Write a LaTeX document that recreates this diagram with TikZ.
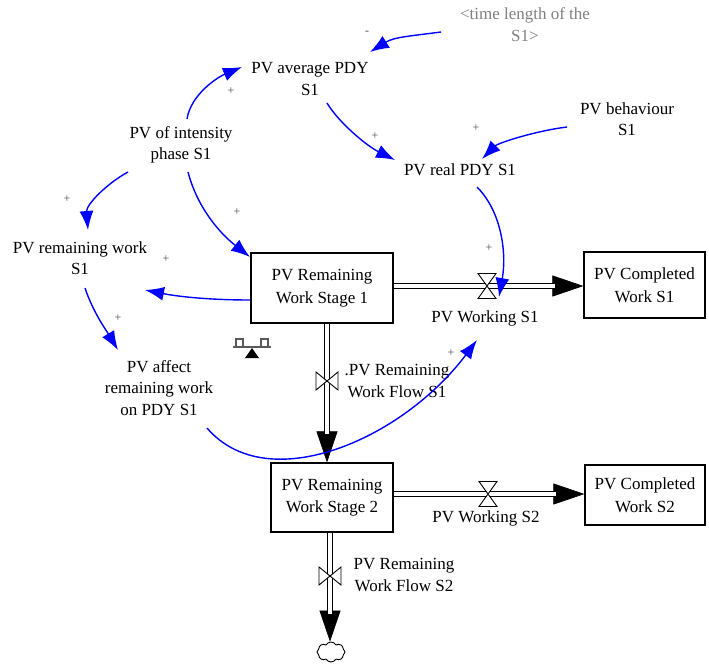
\documentclass[tikz,border=0pt]{standalone}
\usepackage{fontspec}
\setmainfont{Liberation Serif}
\usetikzlibrary{arrows.meta,calc,shapes.symbols}
\begin{document}
\begin{tikzpicture}[x=1pt,y=-1pt,
  lbl/.style={align=center,font=\fontsize{17}{21.5}\selectfont,inner sep=1pt},
  stock/.style={draw,line width=1.2pt,align=center,font=\fontsize{17}{22.5}\selectfont,inner sep=0pt},
  link/.style={draw=blue,line width=1.4pt,-{Latex[length=19pt,width=14pt]}},
  pol/.style={font=\fontsize{12}{12}\selectfont,text=black!70,inner sep=0pt},
  pipe/.style={draw=black,double=white,double distance=4pt,line width=1.3pt},
  pipehead/.style={draw=black,line width=0.6pt,-{Triangle[length=31pt,width=21pt]}},
  hvalve/.pic={\draw[fill=white,line width=0.9pt] (-9,-12.5)--(9,-12.5)--(-9,12.5)--(9,12.5)--cycle;},
  vvalve/.pic={\draw[fill=white,line width=0.9pt] (-11,-9)--(-11,9)--(11,-9)--(11,9)--cycle;}
]
\useasboundingbox (0,0) rectangle (709,667);

% auxiliary variables
\node[lbl,text=black!50] (tl) at (525,24.5) {<time length of the\\S1>};
\node[lbl] (avg)  at (310,79)  {PV average PDY\\S1};
\node[lbl] (beh)  at (627,119) {PV behaviour\\S1};
\node[lbl] (int)  at (181,145) {PV of intensity\\phase S1};
\node[lbl] (real) at (460,170) {PV real PDY S1};
\node[lbl] (rem)  at (80,258)  {PV remaining work\\S1};
\node[lbl] (aff)  at (159,388) {PV affect\\remaining work\\on PDY S1};

% stocks
\node[stock,minimum width=142pt,minimum height=70pt] (box1) at (322,288) {PV Remaining\\Work Stage 1};
\node[stock,minimum width=121pt,minimum height=66pt] (cw1)  at (644.5,285) {PV Completed\\Work S1};
\node[stock,minimum width=122pt,minimum height=69pt] (box2) at (332,497.5) {PV Remaining\\Work Stage 2};
\node[stock,minimum width=120pt,minimum height=60pt] (cw2)  at (645,495) {PV Completed\\Work S2};

% sink
\node[cloud,draw,cloud puffs=8,cloud puff arc=120,aspect=1.3,minimum width=28pt,minimum height=20pt,inner sep=0pt,line width=0.9pt] (cloud) at (331,652) {};

% valve positions
\coordinate (v1)  at (487,286);
\coordinate (vf1) at (327,381);
\coordinate (v2)  at (488,494);
\coordinate (vf2) at (330,576);

% flow pipes
\draw[pipehead] (box1.east |- v1) -- (v1 -| cw1.west);
\draw[pipe,shorten >=28pt] (box1.east |- v1) -- (v1 -| cw1.west);
\draw[pipehead] (vf1 |- box1.south) -- (vf1 |- box2.north);
\draw[pipe,shorten >=28pt] (vf1 |- box1.south) -- (vf1 |- box2.north);
\draw[pipehead] (box2.east |- v2) -- (v2 -| cw2.west);
\draw[pipe,shorten >=28pt] (box2.east |- v2) -- (v2 -| cw2.west);
\draw[pipehead] (vf2 |- box2.south) -- (vf2 |- cloud.north);
\draw[pipe,shorten >=28pt] (vf2 |- box2.south) -- (vf2 |- cloud.north);

% valves
\pic at (v1) {hvalve};
\pic at (v2) {hvalve};
\pic at (vf1) {vvalve};
\pic at (vf2) {vvalve};

% flow names
\node[lbl] (w1)  at (485,318) {PV Working S1};
\node[lbl] (fs1) at (397,381) {.PV Remaining\\Work Flow S1};
\node[lbl] (w2)  at (486,518) {PV Working S2};
\node[lbl] (fs2) at (404,575) {PV Remaining\\Work Flow S2};

% balancing loop marker
\begin{scope}[draw=black!65,line width=1.3pt]
  \draw (233,347) -- (271,347);
  \draw (236,347) -- (236,339) -- (243,339) -- (243,347);
  \draw (261,347) -- (261,339) -- (268,339) -- (268,347);
  \fill[black] (245,358) -- (259,358) -- (252,348) -- cycle;
\end{scope}

% causal links
\draw[link] ($(tl.center)+(-84,7.5)$) .. controls +(-30,4) and +(24,-15) .. ($(avg.center)+(60,-27)$);
\draw[link] ($(int.center)+(6,-26)$) .. controls +(4,-25) and +(-24,10) .. ($(avg.center)+(-68,-12)$);
\draw[link] ($(avg.center)+(17,24)$) .. controls +(12,20) and +(-28,-14) .. ($(real.center)+(-65,-10)$);
\draw[link] ($(beh.center)+(-60,8)$) .. controls +(-32,4) and +(16,-16) .. ($(real.center)+(22,-11)$);
\draw[link] ($(real.center)+(17,17)$) .. controls +(24,24) and +(8,-45) .. ($(v1)+(12,11)$);
\draw[link] ($(int.center)+(7,27)$) .. controls +(10,38) and +(-28,-22) .. ($(box1.center)+(-72,-31)$);
\draw[link] ($(int.center)+(-53,27)$) .. controls +(-22,12) and +(-2,-25) .. ($(rem.center)+(8,-28)$);
\draw[link] ($(box1.west)+(0,12)$) .. controls +(-45,0) and +(30,6) .. ($(rem.center)+(65,32)$);
\draw[link] ($(rem.center)+(5,30)$) .. controls +(8,24) and +(-12,-20) .. ($(aff.center)+(-41,-38)$);
\draw[link] ($(aff.center)+(48,40)$) .. controls +(60,70) and +(-75,100) .. ($(v1)+(-10,54)$);

% link polarities
\node[pol] (p1)  at (367,33)  {-};
\node[pol] (p2)  at (231,91)  {+};
\node[pol] (p3)  at (375,136) {+};
\node[pol] (p4)  at (476,128) {+};
\node[pol] (p5)  at (489,248) {+};
\node[pol] (p6)  at (237,212) {+};
\node[pol] (p7)  at (67,199)  {+};
\node[pol] (p8)  at (166,259) {+};
\node[pol] (p9)  at (118,318) {+};
\node[pol] (p10) at (451,353) {+};
\end{tikzpicture}
\end{document}
